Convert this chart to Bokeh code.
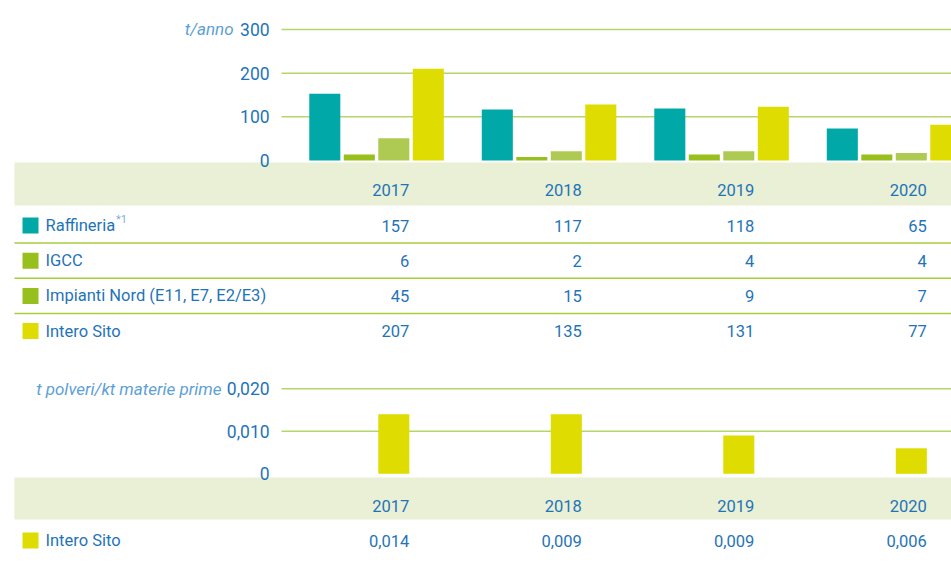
from bokeh.plotting import figure
from bokeh.models import Range1d, BoxAnnotation, ColumnDataSource
from bokeh.transform import dodge
from bokeh.core.properties import value
from bokeh.embed import file_html
from bokeh.resources import INLINE

# ---------------- data ----------------
years = [2017, 2018, 2019, 2020]
year_labels = ["2017", "2018", "2019", "2020"]
series_names = ["Raffineria", "IGCC", "Impianti Nord (E11, E7, E2/E3)", "Intero Sito"]

# bar heights as drawn in the chart (t/anno)
raffineria_bar = [153, 117, 119, 73]
igcc_bar = [14, 8, 14, 14]
impianti_bar = [51, 21, 21, 17]
intero_bar = [210, 128, 123, 82]

# table values (t/anno)
raffineria_tab = ["157", "117", "118", "65"]
igcc_tab = ["6", "2", "4", "4"]
impianti_tab = ["45", "15", "9", "7"]
intero_tab = ["207", "135", "131", "77"]

# specific emission (t polveri/kt materie prime)
intero_spec_bar = [0.014, 0.014, 0.009, 0.006]
intero_spec_tab = ["0,014", "0,009", "0,009", "0,006"]

ticks_a = [0, 100, 200, 300]
tick_labels_a = ["0", "100", "200", "300"]
ticks_b = [0, 0.01, 0.02]
tick_labels_b = ["0", "0,010", "0,020"]
unit_a = "t/anno"
unit_b = "t polveri/kt materie prime"
footnote = "*1"

# ---------------- style ----------------
FONT = value("Roboto")
BLUE = "#1f74b8"
LBLUE = "#5d9fd6"
C_RAF = "#00a9a8"
C_IGCC = "#97bf1e"
C_IMP = "#afca52"
C_INT = "#dedc00"
HDR = "#e9f0d5"
GRID = "#b5d66b"
SEP = "#a6cd3a"

W, H = 951, 563
X0, X1 = 2014.820, 2020.333        # year units across the whole canvas (172.5 px / year)
GRID_L = 2016.449                  # left end of grid lines
TICK_X = 2016.380                  # right edge of tick labels
UNIT_A_X = 2016.171
UNIT_B_X = 2016.101
LEFT_T = 2014.901                  # left edge of table bands
LABEL_X = 2015.081
SQ_X = 2014.994
NOTE_X = 2015.490
VAL_OFF = 0.19
BW = 0.18

p = figure(width=W, height=H, x_range=Range1d(X0, X1), y_range=Range1d(H, 0),
           output_backend="svg", toolbar_location=None,
           x_axis_location=None, y_axis_location=None,
           min_border_left=0, min_border_right=0, min_border_top=0, min_border_bottom=0)
p.outline_line_color = None
p.grid.visible = False
# chart scales (value ranges mapped over the full canvas height)
p.extra_y_ranges = {"a": Range1d(-922.9, 366.4), "b": Range1d(-0.021106, 0.111365)}


def chart_axis(rng, ticks, labels, unit, unit_x):
    gt = ticks[1:]
    p.segment(x0=[GRID_L] * len(gt), x1=[X1 + 1] * len(gt), y0=gt, y1=gt,
              y_range_name=rng, line_color=GRID, line_width=1.5)
    p.text(x=[TICK_X] * len(ticks), y=ticks, text=labels, y_range_name=rng,
           text_align="right", text_baseline="middle", text_font=FONT,
           text_font_size="17.5px", text_color=BLUE)
    p.text(x=[unit_x], y=[ticks[-1]], text=[unit], y_range_name=rng,
           text_align="right", text_baseline="middle", text_font=FONT,
           text_font_style="italic", text_font_size="17px", text_color=LBLUE)


# ---------------- chart A ----------------
chart_axis("a", ticks_a, tick_labels_a, unit_a, UNIT_A_X)
srcA = ColumnDataSource(dict(year=years, raf=raffineria_bar, igcc=igcc_bar,
                             imp=impianti_bar, int=intero_bar))
for col, off, c in [("raf", -0.3, C_RAF), ("igcc", -0.1, C_IGCC),
                    ("imp", 0.1, C_IMP), ("int", 0.3, C_INT)]:
    p.vbar(x=dodge("year", off), top=col, bottom=0, width=BW, source=srcA,
           y_range_name="a", fill_color=c, line_color=None)

# ---------------- chart B ----------------
chart_axis("b", ticks_b, tick_labels_b, unit_b, UNIT_B_X)
srcB = ColumnDataSource(dict(year=years, v=intero_spec_bar))
p.vbar(x=dodge("year", 0.1), top="v", bottom=0, width=BW, source=srcB,
       y_range_name="b", fill_color=C_INT, line_color=None)


# ---------------- tables (pixel rows) ----------------
def table(hdr_top, hdr_bot, hdr_y, row0, row_h, rows, seps):
    p.add_layout(BoxAnnotation(left=LEFT_T, top=hdr_top, bottom=hdr_bot, fill_color=HDR,
                               fill_alpha=1, line_color=None, level="underlay"))
    p.text(x=dodge("year", VAL_OFF), y=hdr_y, text="lab",
           source=ColumnDataSource(dict(year=years, lab=year_labels)),
           text_align="right", text_baseline="middle", text_font=FONT,
           text_font_size="16.5px", text_color=BLUE)
    for i, (name, color, vals) in enumerate(rows):
        yc = row0 + i * row_h
        p.scatter(x=[SQ_X], y=[yc], marker="square", size=16, fill_color=color, line_color=None)
        p.text(x=[LABEL_X], y=[yc], text=[name], text_align="left", text_baseline="middle",
               text_font=FONT, text_font_size="16.5px", text_color=BLUE)
        p.text(x=dodge("year", VAL_OFF), y=yc, text="v",
               source=ColumnDataSource(dict(year=years, v=vals)),
               text_align="right", text_baseline="middle", text_font=FONT,
               text_font_size="16.5px", text_color=BLUE)
    if seps:
        ys = [row0 + (i + 0.5) * row_h for i in range(len(rows) - 1)]
        p.segment(x0=[LEFT_T] * len(ys), x1=[X1 + 1] * len(ys), y0=ys, y1=ys,
                  line_color=SEP, line_width=1.5)


table(162, 205, 189.5, 225, 35.2,
      [(series_names[0], C_RAF, raffineria_tab),
       (series_names[1], C_IGCC, igcc_tab),
       (series_names[2], C_IGCC, impianti_tab),
       (series_names[3], C_INT, intero_tab)], True)
p.text(x=[NOTE_X], y=[219], text=[footnote], text_align="left", text_baseline="middle",
       text_font=FONT, text_font_size="11px", text_color="#7fb0db")

table(477, 519, 505, 540, 35, [(series_names[3], C_INT, intero_spec_tab)], False)

open("out.html", "w").write(file_html(p, INLINE))
